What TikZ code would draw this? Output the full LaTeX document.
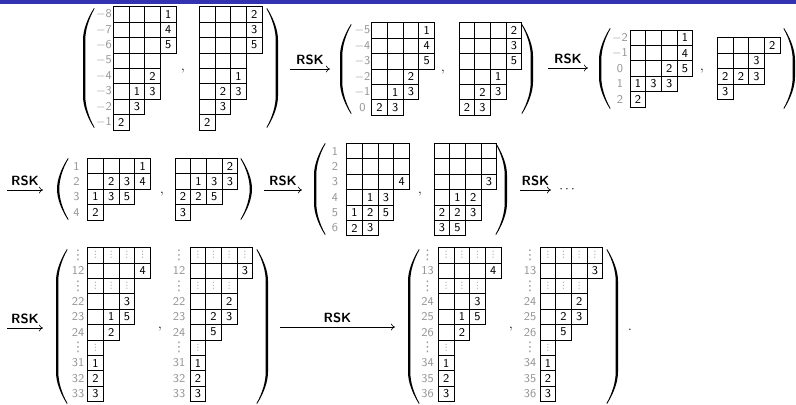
\documentclass[tikz,border=0pt]{standalone}
\usepackage{amsmath,amssymb}
\usepackage{fontspec}
\newfontfamily\dotsfont{DejaVu Sans}
\usepackage{tikz}
\usetikzlibrary{arrows.meta, positioning}
\usepackage{xcolor}
\definecolor{barblue}{RGB}{51,51,178}
\definecolor{labgray}{RGB}{150,150,150}
\newcommand{\cellw}{15.7}
\newcommand{\cellh}{15.4}
% vertical dots for boxes and row labels
\newcommand{\celldots}{{\dotsfont\fontsize{6.5}{7}\selectfont ⋮}}
\newcommand{\labdots}{{\dotsfont\fontsize{10}{11}\selectfont ⋮}}
% o = empty box, d = dotted box
\newcommand{\tabcell}[1]{\if o#1\else\if d#1{\color{labgray}\celldots}\else #1\fi\fi}
\newcommand{\youngtab}[4]{%
  \foreach \trow [count=\r] in {#4} {
    \foreach \tent [count=\c] in \trow {
      \node[cell] (#1-\r-\c) at ({#2+(\c-0.5)*\cellw}, {#3+(\r-0.5)*\cellh}) {\tabcell{\tent}};
    }
  }}
\newcommand{\rowlabels}[4]{%
  \foreach \lab [count=\r] in {#4} {
    \node[rowlab] (#1-\r) at (#2, {#3+(\r-0.5)*\cellh}) {\lab};
  }}
\newcommand{\lbig}[3]{%
  \pgfmathsetmacro\hk{min(32,(#3-#2)/2)}
  \fill (#1+11,#2) .. controls (#1+4,#2+0.35*\hk) and (#1,#2+0.7*\hk) .. (#1,#2+\hk)
    -- (#1,#3-\hk) .. controls (#1,#3-0.7*\hk) and (#1+4,#3-0.35*\hk) .. (#1+11,#3)
    -- (#1+11.5,#3-0.7) .. controls (#1+5.5,#3-0.35*\hk) and (#1+2.3,#3-0.7*\hk) .. (#1+2.3,#3-\hk)
    -- (#1+2.3,#2+\hk) .. controls (#1+2.3,#2+0.7*\hk) and (#1+5.5,#2+0.35*\hk) .. (#1+11.5,#2+0.7) -- cycle;}
\newcommand{\rbig}[3]{%
  \pgfmathsetmacro\hk{min(32,(#3-#2)/2)}
  \fill (#1-11,#2) .. controls (#1-4,#2+0.35*\hk) and (#1,#2+0.7*\hk) .. (#1,#2+\hk)
    -- (#1,#3-\hk) .. controls (#1,#3-0.7*\hk) and (#1-4,#3-0.35*\hk) .. (#1-11,#3)
    -- (#1-11.5,#3-0.7) .. controls (#1-5.5,#3-0.35*\hk) and (#1-2.3,#3-0.7*\hk) .. (#1-2.3,#3-\hk)
    -- (#1-2.3,#2+\hk) .. controls (#1-2.3,#2+0.7*\hk) and (#1-5.5,#2+0.35*\hk) .. (#1-11.5,#2+0.7) -- cycle;}

\begin{document}
\begin{tikzpicture}[
    x=0.75pt, y=-0.75pt,
    cell/.style={draw, line width=0.6pt, minimum width=11.78pt, minimum height=11.55pt,
                 inner sep=0pt, font=\fontsize{9}{10}\sffamily},
    rowlab/.style={inner sep=0pt, text=labgray, font=\fontsize{9}{10}\sffamily},
    rsk/.style={-{Computer Modern Rightarrow[length=3pt, width=5pt]}, line width=0.45pt},
    rsklab/.style={inner sep=0pt, above=2.6pt, font=\fontsize{10}{11}\sffamily\bfseries},
    punct/.style={inner sep=0pt, anchor=base},
]
    \useasboundingbox (0,0) rectangle (796,404);
    \fill[barblue] (0,0) rectangle (796,4);

    % Row 1: first pair
    \lbig{83}{8}{128}
    \rowlabels{l1}{104}{6.7}{$-$8,$-$7,$-$6,$-$5,$-$4,$-$3,$-$2,$-$1}
    \youngtab{p1}{113.3}{6.7}{{o,o,o,1},{o,o,o,4},{o,o,o,5},{o,o,o},{o,o,2},{o,1,3},{o,3},{2}}
    \node[punct] (c1) at (183,70) {$,$};
    \youngtab{q1}{199.3}{6.7}{{o,o,o,2},{o,o,o,3},{o,o,o,5},{o,o,o},{o,o,1},{o,2,3},{o,3},{2}}
    \rbig{278}{8}{128}

    \coordinate (a1s) at (290,69);
    \coordinate (a1e) at (330,69);
    \draw[rsk] (a1s) -- (a1e) node[midway, rsklab] (r1) {RSK};

    % Row 1: second pair
    \lbig{340}{24}{114}
    \rowlabels{l2}{362.5}{22.7}{$-$5,$-$4,$-$3,$-$2,$-$1,0}
    \youngtab{p2}{371.7}{22.7}{{o,o,o,1},{o,o,o,4},{o,o,o,5},{o,o,2},{o,1,3},{2,3}}
    \node[punct] (c2) at (443,71) {$,$};
    \youngtab{q2}{459}{22.7}{{o,o,o,2},{o,o,o,3},{o,o,o,5},{o,o,1},{o,2,3},{2,3}}
    \rbig{533}{24}{114}

    \coordinate (a2s) at (548,68);
    \coordinate (a2e) at (588,68);
    \draw[rsk] (a2s) -- (a2e) node[midway, rsklab] (r2) {RSK};

    % Row 1: third pair
    \lbig{599}{28}{109}
    \rowlabels{l3}{620}{30}{$-$2,$-$1,0,1,2}
    \youngtab{p3}{630}{30}{{o,o,o,1},{o,o,o,4},{o,o,2,5},{1,3,3},{2}}
    \node[punct] (c3) at (702,70) {$,$};
    \youngtab{q3}{717.3}{37.7}{{o,o,o,2},{o,o,3},{2,2,3},{3}}
    \rbig{795}{28}{109}

    % Row 2
    \coordinate (a3s) at (7,190);
    \coordinate (a3e) at (43,190);
    \draw[rsk] (a3s) -- (a3e) node[midway, rsklab] (r3) {RSK};

    \lbig{57}{158}{220}
    \rowlabels{l4}{76.5}{158.3}{1,2,3,4}
    \youngtab{p4}{87.7}{158.3}{{o,o,o,1},{o,2,3,4},{1,3,5},{2}}
    \node[punct] (c4) at (162,193) {$,$};
    \youngtab{q4}{175}{158.3}{{o,o,o,2},{o,1,3,3},{2,2,5},{3}}
    \rbig{252}{158}{220}

    \coordinate (a4s) at (264,190);
    \coordinate (a4e) at (302,190);
    \draw[rsk] (a4s) -- (a4e) node[midway, rsklab] (r4) {RSK};

    \lbig{314}{143}{235}
    \rowlabels{l5}{335}{143.3}{1,2,3,4,5,6}
    \youngtab{p5}{346.7}{143.3}{{o,o,o,o},{o,o,o,o},{o,o,o,4},{o,1,3},{1,2,5},{2,3}}
    \node[punct] (c5) at (420,193) {$,$};
    \youngtab{q5}{434}{143.3}{{o,o,o,o},{o,o,o,o},{o,o,o,3},{o,1,2},{2,2,3},{3,5}}
    \rbig{507}{143}{235}

    \coordinate (a5s) at (520,190);
    \coordinate (a5e) at (551,190);
    \draw[rsk] (a5s) -- (a5e) node[midway, rsklab] (r5) {RSK};
    \node[inner sep=0pt, right=6pt of a5e] (dots) {$\cdots$};

    % Row 3
    \coordinate (a6s) at (7,328);
    \coordinate (a6e) at (43,328);
    \draw[rsk] (a6s) -- (a6e) node[midway, rsklab] (r6) {RSK};

    \lbig{56}{249}{404}
    \rowlabels{l6}{78}{247.5}{\labdots,12,\labdots,22,23,24,\labdots,31,32,33}
    \youngtab{p6}{87.7}{247.5}{{d,d,d,d},{o,o,o,4},{d,d,d},{o,o,3},{o,1,5},{o,2},{d},{1},{2},{3}}
    \node[punct] (c6) at (160,328) {$,$};
    \rowlabels{m6}{179}{247.5}{\labdots,12,\labdots,22,23,24,\labdots,31,32,33}
    \youngtab{q6}{190}{247.5}{{d,d,d,d},{o,o,o,3},{d,d,d},{o,o,2},{o,2,3},{o,5},{d},{1},{2},{3}}
    \rbig{268}{249}{404}

    \coordinate (a7s) at (280,327);
    \coordinate (a7e) at (395,327);
    \draw[rsk] (a7s) -- (a7e) node[midway, rsklab] (r7) {RSK};

    \lbig{408}{249}{404}
    \rowlabels{l7}{427.5}{247.5}{\labdots,13,\labdots,24,25,26,\labdots,34,35,36}
    \youngtab{p7}{438.3}{247.5}{{d,d,d,d},{o,o,o,4},{d,d,d},{o,o,3},{o,1,5},{o,2},{d},{1},{2},{3}}
    \node[punct] (c7) at (511,328) {$,$};
    \rowlabels{m7}{530}{247.5}{\labdots,13,\labdots,24,25,26,\labdots,34,35,36}
    \youngtab{q7}{540}{247.5}{{d,d,d,d},{o,o,o,3},{d,d,d},{o,o,2},{o,2,3},{o,5},{d},{1},{2},{3}}
    \rbig{618}{249}{404}
    \node[punct] (stop) at (630,330) {$.$};
\end{tikzpicture}
\end{document}
